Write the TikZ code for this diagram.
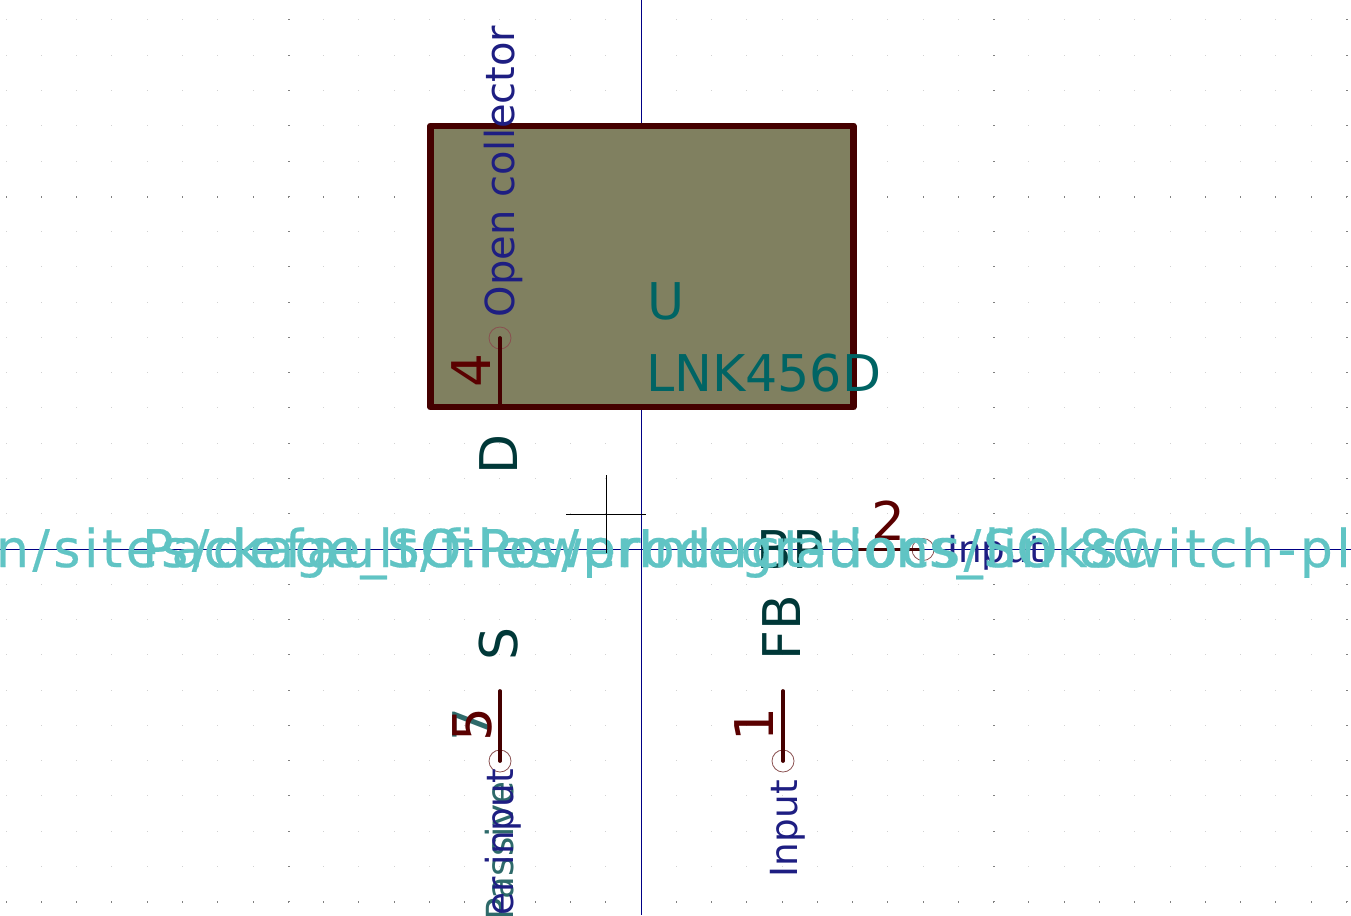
\documentclass[tikz,border=0pt]{standalone}
\usepackage{fontspec}
\setmainfont{DejaVu Sans}
\newfontfamily\kicadSpaced[LetterSpace=6.7,FakeBold=0.4]{DejaVu Sans}
\newfontfamily\kicadField[LetterSpace=0.8,FakeBold=0.4]{DejaVu Sans}
\newcommand{\kicadSize}[1]{\fontsize{#1}{#1}\selectfont}
\definecolor{kicadAxis}{HTML}{000084}
\definecolor{kicadBody}{HTML}{808060}
\definecolor{kicadStroke}{HTML}{450000}
\definecolor{kicadNumber}{HTML}{5A0000}
\definecolor{kicadName}{HTML}{003838}
\definecolor{kicadRef}{HTML}{006464}
\definecolor{kicadType}{HTML}{1E1E82}
\definecolor{kicadTeal}{HTML}{2E6A6A}
\definecolor{kicadField}{HTML}{60C4C4}
\definecolor{kicadRing}{HTML}{8A5050}
\tikzset{
  gridline/.style={line width=0.75pt, draw=kicadAxis},
  pinline/.style={line width=2.8pt, draw=kicadStroke, line cap=round},
  pinring/.style={circle, draw=kicadRing, line width=0.6pt, minimum size=16.5pt, inner sep=0pt},
  txt/.style={inner sep=0pt, outer sep=0pt},
  pinnumber/.style={txt, rotate=90, anchor=base, text=kicadNumber, font=\kicadSize{40pt}},
  pinname/.style={txt, rotate=90, anchor=base, text=kicadName, font=\kicadSize{39pt}},
  pintype/.style={txt, rotate=90, anchor=base west, text=kicadType, font=\kicadSize{28pt}},
  reffield/.style={txt, anchor=base west, text=kicadRef, font=\kicadSize{38pt}},
  hiddenfield/.style={txt, anchor=base west, text=kicadField, font=\kicadField\kicadSize{39pt}},
}
\begin{document}
\begin{tikzpicture}
% sheet measured in screen pixels, y running down
\def\pxsz{0.75pt}
\begin{scope}[x=\pxsz, y=-\pxsz, line join=round]
  \useasboundingbox (0,0) rectangle (1351,915);
  \clip (0,0) rectangle (1351,915);
  % Background
  \fill[white] (0,0) rectangle (1351,915);
  % Grid dots
  \foreach \i in {-18,...,20} {
    \foreach \j in {-15,...,10} {
      \fill[black!18] ({641+35.27*\i-0.5},{549+35.27*\j-0.5}) rectangle ++(1,1);
    }
  }
  % Major grid ticks
  \foreach \i in {-18,...,20} {
    \fill[black!50] ({641+35.27*\i-0.5},{196.3-0.5}) rectangle ++(1,2);
    \fill[black!50] ({641+35.27*\i-0.5},{901.7-0.5}) rectangle ++(1,2);
  }
  \foreach \j in {-15,...,10} {
    \fill[black!50] ({288.3-0.5},{549+35.27*\j-0.5}) rectangle ++(2,1);
    \fill[black!50] ({993.7-0.5},{549+35.27*\j-0.5}) rectangle ++(2,1);
    \fill[black!50] ({1346.4-0.5},{549+35.27*\j-0.5}) rectangle ++(2,1);
  }
  % Axes
  \draw[gridline] (641.5,0) -- (641.5,915);
  \draw[gridline] (0,549.5) -- (1351,549.5);
  % Body
  \draw[fill=kicadBody, draw=kicadStroke, line width=5.2pt] (430.5,126) rectangle (853.3,407);
  % Pins
  \coordinate (bodyD) at (500,407);
  \coordinate (bodyS) at (500,691);
  \coordinate (bodyFB) at (783,691);
  \coordinate (bodyBP) at (853,549.5);
  \node[pinring] (ringD) at (500,338) {};
  \node[pinring] (ringS) at (500,761) {};
  \node[pinring] (ringFB) at (783,761) {};
  \node[pinring] (ringBP) at (923,549.5) {};
  \draw[pinline] (bodyD) -- (ringD.center);
  \draw[pinline] (bodyS) -- (ringS.center);
  \draw[pinline] (bodyFB) -- (ringFB.center);
  \draw[pinline] (bodyBP) -- (ringBP.center);
  % Pin numbers
  \node[pinnumber] (numD) at (490,371) {4};
  \node[pinnumber, text=kicadTeal] (numSb) at (491,725) {7};
  \node[pinnumber] (numS) at (491,725) {5};
  \node[pinnumber] (numFB) at (773,725) {1};
  \node[pinnumber, rotate=-90] (numBP) at (888,540) {2};
  % Pin names
  \node[pinname] (nameD) at (517,454) {D};
  \node[pinname] (nameS) at (517,644) {S};
  \node[pinname] (nameFB) at (800,628) {FB};
  \node[pinname, rotate=-90] (nameBP) at (790,568) {BP};
  % Pin types
  \node[pintype, font=\kicadSize{30pt}] (typeD) at (514,317) {Open collector};
  \node[pintype, text=kicadTeal] (typeSa) at (513,920) {Passive};
  \node[pintype] (typeSb) at (513,990) {Power input};
  \node[pintype] (typeFB) at (797,877) {Input};
  \node[pintype, rotate=-90] (typeBP) at (947,562) {Input};
  % Reference and value
  \node[reffield] (ref) at (647,319) {U};
  \node[reffield] (value) at (646,391) {LNK456D};
  % Hidden fields
  \node[hiddenfield, font=\kicadSpaced\kicadSize{39pt}] (datasheet) at (-4,567) {n/sites/default/files/product-docs/linkswitch-pl};
  \node[hiddenfield] (footprint) at (142,567) {Package\_SO:PowerIntegrations\_SO-8C};
  % Cursor
  \draw[black, line width=0.75pt] (566,514.5) -- (646,514.5);
  \draw[black, line width=0.75pt] (606.5,475) -- (606.5,553);
\end{scope}
\end{tikzpicture}
\end{document}
